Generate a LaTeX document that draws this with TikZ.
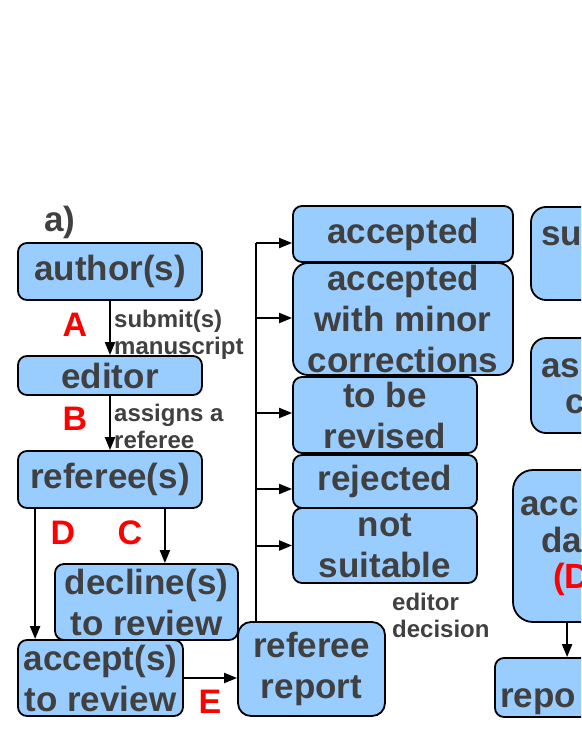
\documentclass[tikz,border=0pt]{standalone}
\usepackage{fontspec}
\setmainfont{Liberation Sans}
\usetikzlibrary{calc,positioning,arrows.meta}
\definecolor{boxblue}{RGB}{153,204,255}
\definecolor{txtgray}{RGB}{64,64,64}
\definecolor{tagred}{RGB}{255,0,0}
\tikzset{
  box/.style={draw=black,line width=1.8pt,rounded corners=9pt,fill=boxblue,align=center,
              font=\fontsize{35}{41}\selectfont\bfseries,text=txtgray,inner sep=0pt},
  bigtxt/.style={font=\fontsize{35}{41}\selectfont\bfseries,text=txtgray,inner sep=0pt},
  note/.style={font=\fontsize{24}{27}\selectfont\bfseries,text=txtgray,align=left,inner sep=0pt},
  tag/.style={font=\fontsize{34}{40}\selectfont\bfseries,text=tagred,inner sep=0pt},
  arr/.style={-{Triangle[length=13pt,width=10pt]},line width=2pt},
  line/.style={line width=2pt}
}

\begin{document}
\begin{tikzpicture}[x=1pt,y=-1pt]
  \useasboundingbox (0,0) rectangle (581,752);
  \clip (0,0) rectangle (581,752);
  \node[bigtxt] (part) at (60,222) {a)};
  % left column
  \node[box,minimum width=184pt,minimum height=57pt] (author) at (110,271.5) {author(s)};
  \node[box,minimum width=184pt,minimum height=39pt] (editor) at (110,375.5) {editor};
  \node[box,minimum width=184pt,minimum height=57pt] (referee) at (110,479.5) {referee(s)};
  \node[box,minimum width=183pt,minimum height=76pt] (decline) at (146.5,602) {decline(s)\\to review};
  \node[box,minimum width=165pt,minimum height=76pt] (accept) at (100.5,678) {accept(s)\\to review};
  \node[box,minimum width=147pt,minimum height=94pt,rounded corners=13pt] (report) at (311.5,669) {referee\\report};
  % editor decision
  \node[box,minimum width=220pt,minimum height=56pt] (accepted) at (403,234) {accepted};
  \node[box,minimum width=220pt,minimum height=112pt,rounded corners=15pt] (minor) at (403,319) {accepted\\with minor\\corrections};
  \node[box,minimum width=184pt,minimum height=76pt] (revised) at (385,415) {to be\\revised};
  \node[box,minimum width=184pt,minimum height=53pt] (rejected) at (385,481.5) {rejected};
  \node[box,minimum width=184pt,minimum height=75pt] (notsuit) at (385,545.5) {not\\suitable};
  % right column, cut off
  \node[box,minimum width=184pt,minimum height=93pt,rounded corners=15pt] (subbox) at (623,253.5) {};
  \node[box,minimum width=184pt,minimum height=95pt,rounded corners=15pt] (asbox) at (623,385.5) {};
  \node[box,minimum width=200pt,minimum height=152pt,rounded corners=20pt] (accbox) at (613,546) {};
  \node[box,minimum width=200pt,minimum height=59pt] (repobox) at (595,687.5) {};
  \node[bigtxt,anchor=base west] (subtxt) at (541,245) {su};
  \node[bigtxt,anchor=base west] (astxt) at (541,377) {as};
  \node[bigtxt,anchor=base west] (ctxt) at (565,413) {c};
  \node[bigtxt,anchor=base west] (acctxt) at (520,515) {acc};
  \node[bigtxt,anchor=base west] (datxt) at (541,552) {da};
  \node[bigtxt,anchor=base west,text=tagred] (dtxt) at (553,588) {(D};
  \node[bigtxt,anchor=base west] (repotxt) at (500,707) {repo};
  % labels
  \node[note,anchor=base west] (submit) at (114,354) {submit(s)\\manuscript};
  \node[note,anchor=base west] (assigns) at (114,448) {assigns a\\referee};
  \node[note,anchor=base west] (decision) at (392,637) {editor\\decision};
  \node[tag] (tA) at (75,325) {A};
  \node[tag] (tB) at (75,419) {B};
  \node[tag] (tD) at (63,533) {D};
  \node[tag] (tC) at (130,533) {C};
  \node[tag] (tE) at (210,702) {E};
  % connectors
  \draw[arr] (author) -- (editor);
  \draw[arr] (editor) -- (referee);
  \draw[arr] ([xshift=18pt]referee.south west) -- ([xshift=18pt]accept.north west);
  \draw[arr] ([xshift=-38pt]referee.south east) -- ([xshift=-38pt]referee.south east |- decline.north);
  \draw[arr] (accept.east) -- (accept.east -| report.west);
  \draw[arr] ([xshift=55pt]accbox.south west) -- ([xshift=55pt]accbox.south west |- repobox.north);
  \coordinate (split) at (256,243);
  \draw[line] (split |- report.north) -- (split);
  \foreach \n/\dy in {accepted/-9,minor/1,revised/2,rejected/-7.5,notsuit/0}
    \draw[arr] ([yshift=\dy pt]\n.west -| split) -- ([yshift=\dy pt]\n.west);
\end{tikzpicture}
\end{document}
